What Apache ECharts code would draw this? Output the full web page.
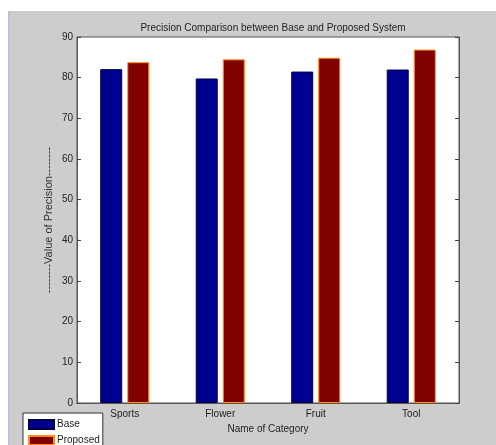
<!DOCTYPE html>
<html>
<head>
<meta charset="utf-8">
<script src="https://cdn.jsdelivr.net/npm/echarts@6/dist/echarts.min.js"></script>
<style>
  html, body { margin: 0; padding: 0; background: #fff; }
  #frame { position: absolute; left: 8px; top: 11px; width: 488px; height: 434px; background: #cdcdcd; border-left: 2px solid #b8c4d8; box-sizing: border-box; }
  #chart { position: absolute; left: 0; top: 0; width: 496px; height: 445px; }
</style>
</head>
<body>
<div id="frame"></div>
<div id="chart"></div>
<script>
const categories = ['Sports', 'Flower', 'Fruit', 'Tool'];
const baseValues = [82.1, 79.8, 81.5, 82.0];
const proposedValues = [83.8, 84.5, 84.9, 86.9];
const yTicks = { min: 0, max: 90, interval: 10 };

const font = "'Liberation Sans', Arial, sans-serif";
const chart = echarts.init(document.getElementById('chart'));

chart.setOption({
  backgroundColor: 'transparent',
  animation: false,
  title: {
    text: 'Precision Comparison between Base and Proposed System',
    left: 268,
    textAlign: 'center',
    top: 18,
    textStyle: { fontFamily: font, fontSize: 10, fontWeight: 'normal', color: '#222' }
  },
  legend: {
    orient: 'vertical',
    left: 23,
    top: 413,
    width: 74,
    height: 40,
    itemWidth: 25,
    itemHeight: 9,
    itemGap: 5,
    padding: [6, 3, 6, 5],
    backgroundColor: '#fff',
    borderColor: '#333',
    borderWidth: 1,
    borderRadius: 0,
    icon: 'rect',
    textStyle: { fontFamily: font, fontSize: 10, color: '#222', padding: [0, 0, 0, -2] },
    data: ['Base', 'Proposed']
  },
  grid: {
    left: 77, right: 37, top: 37, bottom: 42,
    show: true,
    backgroundColor: '#fff',
    borderColor: '#555',
    borderWidth: 1
  },
  xAxis: [
    {
      type: 'category',
      data: categories,
      name: 'Name of Category',
      nameLocation: 'middle',
      nameGap: 21,
      nameMoveOverlap: false,
      nameTextStyle: { fontFamily: font, fontSize: 10, color: '#222' },
      axisLine: { lineStyle: { color: '#222' } },
      axisTick: { inside: true, alignWithLabel: true, length: 4, lineStyle: { color: '#444' } },
      axisLabel: { fontFamily: font, fontSize: 10, color: '#222', margin: 6 }
    },
    {
      type: 'category',
      data: categories,
      position: 'top',
      axisLine: { lineStyle: { color: '#555' } },
      axisTick: { inside: true, alignWithLabel: true, length: 4, lineStyle: { color: '#444' } },
      axisLabel: { show: false }
    }
  ],
  yAxis: [
    {
      type: 'value',
      min: yTicks.min, max: yTicks.max, interval: yTicks.interval,
      name: '--------Value of Precision--------',
      nameLocation: 'middle',
      nameGap: 23,
      nameMoveOverlap: false,
      nameTextStyle: { fontFamily: font, fontSize: 11, color: '#333' },
      axisLine: { show: true, lineStyle: { color: '#555' } },
      axisTick: { show: true, inside: true, length: 4, lineStyle: { color: '#444' } },
      axisLabel: { fontFamily: font, fontSize: 10, color: '#222', margin: 4 },
      splitLine: { show: false }
    },
    {
      type: 'value',
      position: 'right',
      min: yTicks.min, max: yTicks.max, interval: yTicks.interval,
      axisLine: { show: true, lineStyle: { color: '#555' } },
      axisTick: { show: true, inside: true, length: 4, lineStyle: { color: '#444' } },
      axisLabel: { show: false },
      splitLine: { show: false }
    }
  ],
  series: [
    {
      name: 'Base',
      type: 'bar',
      data: baseValues,
      barWidth: 22,
      barGap: '23%',
      itemStyle: { color: '#000090', borderColor: '#000040', borderWidth: 1 }
    },
    {
      name: 'Proposed',
      type: 'bar',
      data: proposedValues,
      barWidth: 22,
      barGap: '23%',
      itemStyle: { color: '#800000', borderColor: '#ff8c1a', borderWidth: 1 }
    }
  ]
});
</script>
</body>
</html>
